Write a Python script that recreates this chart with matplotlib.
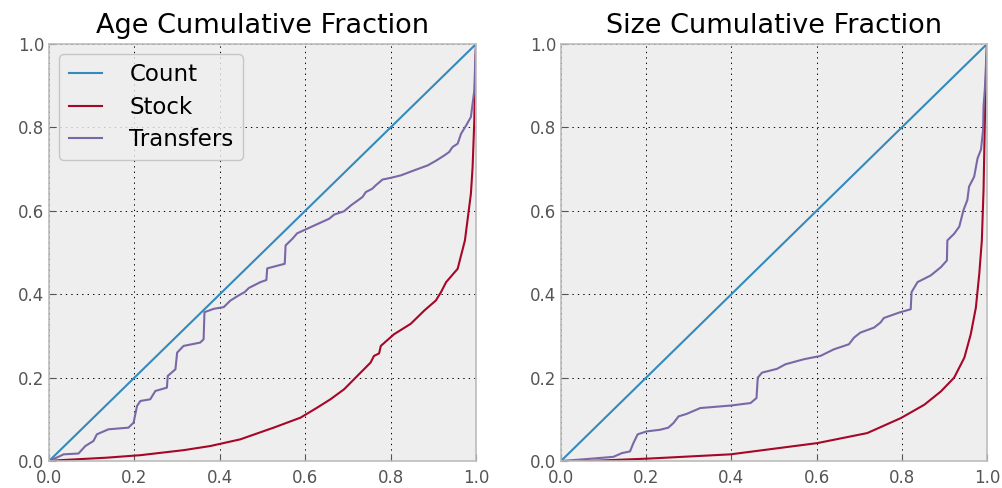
import matplotlib
matplotlib.use("Agg")
import matplotlib.pyplot as plt

# Age panel
age_count_x = [0.0, 1.0]
age_count_y = [0.0, 1.0]

age_stock_x = [0.0, 0.026, 0.135, 0.214, 0.315, 0.378, 0.448, 0.526, 0.589, 0.628,
               0.659, 0.691, 0.722, 0.753, 0.761, 0.773, 0.777, 0.808, 0.847, 0.879,
               0.906, 0.918, 0.930, 0.957, 0.965, 0.974, 0.980, 0.988, 0.992, 0.996,
               0.998, 1.0]
age_stock_y = [0.0, 0.002, 0.008, 0.014, 0.026, 0.036, 0.052, 0.080, 0.104, 0.128,
               0.148, 0.172, 0.204, 0.236, 0.252, 0.258, 0.276, 0.304, 0.329, 0.361,
               0.385, 0.405, 0.429, 0.461, 0.493, 0.529, 0.577, 0.641, 0.705, 0.817,
               0.929, 1.0]

age_transfers_x = [0.0, 0.026, 0.034, 0.069, 0.085, 0.104, 0.112, 0.139, 0.186, 0.198,
                   0.206, 0.214, 0.237, 0.249, 0.276, 0.278, 0.296, 0.300, 0.315, 0.354,
                   0.362, 0.364, 0.386, 0.409, 0.425, 0.444, 0.458, 0.468, 0.495, 0.509,
                   0.511, 0.526, 0.552, 0.554, 0.570, 0.581, 0.613, 0.656, 0.668, 0.691,
                   0.707, 0.734, 0.742, 0.757, 0.765, 0.781, 0.800, 0.824, 0.855, 0.887,
                   0.906, 0.926, 0.937, 0.945, 0.957, 0.965, 0.977, 0.988, 0.992, 0.996,
                   0.998, 1.0]
age_transfers_y = [0.0, 0.012, 0.016, 0.018, 0.036, 0.048, 0.064, 0.076, 0.080, 0.092,
                   0.132, 0.144, 0.148, 0.168, 0.176, 0.204, 0.220, 0.260, 0.276, 0.284,
                   0.292, 0.357, 0.365, 0.369, 0.385, 0.397, 0.405, 0.415, 0.429, 0.434,
                   0.462, 0.466, 0.473, 0.517, 0.533, 0.546, 0.561, 0.581, 0.591, 0.599,
                   0.613, 0.633, 0.645, 0.653, 0.661, 0.675, 0.679, 0.685, 0.697, 0.709,
                   0.720, 0.733, 0.741, 0.753, 0.761, 0.785, 0.805, 0.825, 0.857, 0.889,
                   0.954, 1.0]

# Size panel
size_count_x = [0.0, 1.0]
size_count_y = [0.0, 1.0]

size_stock_x = [0.0, 0.064, 0.209, 0.398, 0.602, 0.719, 0.798, 0.853, 0.892, 0.923,
                0.947, 0.962, 0.974, 0.982, 0.988, 0.992, 0.995, 0.998, 1.0]
size_stock_y = [0.0, 0.0, 0.006, 0.016, 0.043, 0.067, 0.103, 0.135, 0.167, 0.200,
                0.248, 0.304, 0.368, 0.449, 0.529, 0.650, 0.811, 0.932, 1.0]

size_transfers_x = [0.0, 0.064, 0.123, 0.143, 0.162, 0.170, 0.180, 0.201, 0.233, 0.252,
                    0.264, 0.276, 0.295, 0.327, 0.398, 0.445, 0.459, 0.462, 0.472, 0.507,
                    0.527, 0.570, 0.609, 0.641, 0.676, 0.688, 0.703, 0.735, 0.750, 0.758,
                    0.794, 0.821, 0.823, 0.837, 0.868, 0.892, 0.906, 0.907, 0.923, 0.935,
                    0.945, 0.954, 0.958, 0.970, 0.978, 0.986, 0.991, 0.992, 0.995, 0.998,
                    1.0]
size_transfers_y = [0.0, 0.005, 0.010, 0.019, 0.023, 0.043, 0.064, 0.071, 0.075, 0.080,
                    0.091, 0.107, 0.113, 0.127, 0.133, 0.139, 0.151, 0.200, 0.212, 0.221,
                    0.232, 0.244, 0.252, 0.268, 0.280, 0.296, 0.308, 0.320, 0.332, 0.343,
                    0.356, 0.364, 0.405, 0.429, 0.445, 0.465, 0.481, 0.529, 0.545, 0.562,
                    0.602, 0.626, 0.658, 0.682, 0.726, 0.747, 0.795, 0.851, 0.891, 0.956,
                    1.0]

colors = ["#348ABD", "#A60628", "#7A68A6"]
labels = ["Count", "Stock", "Transfers"]
ticks = [0.0, 0.2, 0.4, 0.6, 0.8, 1.0]

fig = plt.figure(figsize=(10.03, 4.88), dpi=100)
ax1 = fig.add_axes([0.0489, 0.0553, 0.4257, 0.8545])
ax2 = fig.add_axes([0.5593, 0.0553, 0.4247, 0.8545])

panels = [
    (ax1, "Age Cumulative Fraction",
     [(age_count_x, age_count_y), (age_stock_x, age_stock_y), (age_transfers_x, age_transfers_y)]),
    (ax2, "Size Cumulative Fraction",
     [(size_count_x, size_count_y), (size_stock_x, size_stock_y), (size_transfers_x, size_transfers_y)]),
]

for ax, title, series in panels:
    ax.set_facecolor("#eeeeee")
    for (x, y), c, lab in zip(series, colors, labels):
        ax.plot(x, y, color=c, lw=1.5, label=lab)
    ax.set_xlim(0, 1)
    ax.set_ylim(0, 1)
    ax.set_xticks(ticks)
    ax.set_yticks(ticks)
    ax.grid(True, color="black", linestyle=(0, (1.4, 4.2)), linewidth=0.7)
    ax.set_axisbelow(True)
    for sp in ax.spines.values():
        sp.set_color("#bcbcbc")
        sp.set_linewidth(1.2)
    ax.tick_params(direction="in", colors="#555555", labelsize=12, length=5,
                   top=False, right=False)
    ax.tick_params(axis="x", pad=6)
    ax.set_title(title, fontsize=19.5, pad=8)

leg = ax1.legend(loc="upper left", fontsize=16.5, frameon=True, fancybox=True,
                 handlelength=1.45, handletextpad=1.2, labelspacing=0.4,
                 borderpad=0.4, borderaxespad=0.45)
leg.get_frame().set_facecolor("#eeeeee")
leg.get_frame().set_edgecolor("#bcbcbc")

fig.savefig("out.png", dpi=100)
